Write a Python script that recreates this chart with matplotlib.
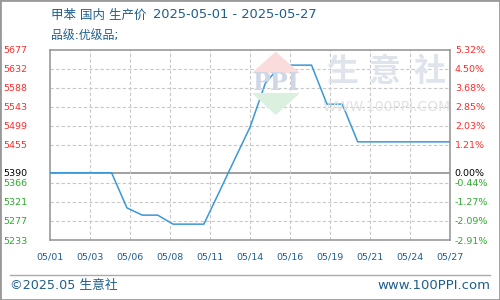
import numpy as np
import matplotlib
matplotlib.use("Agg")
import matplotlib.pyplot as plt
from matplotlib.patches import Polygon, Rectangle
from matplotlib.lines import Line2D

plt.rcParams['font.family'] = ['DejaVu Sans', 'Noto Sans CJK SC']

# data: day of May 2025 and price (yuan/ton)
days = list(range(1, 28))
prices = [5390, 5390, 5390, 5390, 5390, 5308, 5291, 5291, 5270, 5270,
          5270, 5345, 5421, 5496, 5599, 5641, 5641, 5641, 5550, 5550,
          5462, 5462, 5462, 5462, 5462, 5462, 5462]

base_price = 5390
y_ticks = [5233, 5277.4, 5321.8, 5366.2, 5390, 5455, 5499.4, 5543.8, 5588.2, 5632.6, 5677]
x_labels = ["05/01", "05/03", "05/06", "05/08", "05/11", "05/14",
            "05/16", "05/19", "05/21", "05/24", "05/27"]

title_name = "甲苯 国内 生产价"
title_dates = "2025-05-01 - 2025-05-27"
subtitle = "品级:优级品;"

blue_text = "#1f5e8c"
red = "#ff2b2b"
green = "#2fa82f"
frame = "#999999"
grid_c = "#c8c8c8"

fig = plt.figure(figsize=(5, 3), dpi=100)
W, H = 500, 300


def fx(px):
    return px / W


def fy(py):
    return 1 - py / H


ax = fig.add_axes([fx(50), fy(240), fx(450) - fx(50), fy(49.7) - fy(240)])
ax.set_xlim(days[0], days[-1])
ax.set_ylim(y_ticks[0], y_ticks[-1])

x_ticks = np.linspace(days[0], days[-1], len(x_labels))

# watermark
wm = fig.transFigure
fig.patches.append(Polygon([(fx(251.7), fy(73)), (fx(275.7), fy(51.7)), (fx(300), fy(73))],
                           closed=True, transform=wm, facecolor="#fadcdc", edgecolor="none", zorder=0.5))
fig.patches.append(Polygon([(fx(251.7), fy(93)), (fx(275.7), fy(115)), (fx(300), fy(93))],
                           closed=True, transform=wm, facecolor="#dcf0e0", edgecolor="none", zorder=0.5))
fig.text(fx(276), fy(83), "PPI", transform=wm, ha="center", va="center", fontsize=17,
         fontweight="bold", family="DejaVu Serif", color="#cfd6e6", zorder=0.6)
for ch, cx in zip("生意社", [341.7, 385, 430]):
    fig.text(fx(cx), fy(71.7), ch, ha="center", va="center", fontsize=23,
             fontweight="bold", family="Noto Sans CJK SC", color="#dfe3ec", zorder=0.6)
fig.text(fx(387), fy(106.7), "WWW.100PPI.COM", ha="center", va="center", fontsize=10,
         family="DejaVu Sans", color="#e2e2e2", zorder=0.6)
ax.patch.set_alpha(0)

# grid
for v in y_ticks:
    if v == base_price:
        ax.axhline(v, color=frame, lw=1.3, zorder=1)
    elif v not in (y_ticks[0], y_ticks[-1]):
        ax.axhline(v, color=grid_c, lw=0.8, ls=(0, (3, 2)), zorder=1)
for v in x_ticks[1:-1]:
    ax.axvline(v, color=grid_c, lw=0.8, ls=(0, (3, 2)), zorder=1)

ax.plot(days, prices, color="#3a98d8", lw=1.1, zorder=3)

for s in ax.spines.values():
    s.set_color(frame)
    s.set_linewidth(1.2)

ax.set_xticks(x_ticks)
ax.set_xticklabels(x_labels, fontsize=6.8, color=blue_text)
ax.tick_params(axis="x", length=0, pad=9)

ax.set_yticks(y_ticks)
ax.set_yticklabels([str(int(v)) for v in y_ticks], fontsize=6.8)
ax.tick_params(axis="y", length=0, pad=16)

ax2 = ax.twinx()
ax2.set_ylim(ax.get_ylim())
ax2.set_yticks(y_ticks)
ax2.set_yticklabels([f"{(v / base_price - 1) * 100:.2f}%" for v in y_ticks], fontsize=6.8)
ax2.tick_params(axis="y", length=0, pad=3.5)
for s in ax2.spines.values():
    s.set_visible(False)

for a in (ax, ax2):
    for lab, v in zip(a.get_yticklabels(), y_ticks):
        lab.set_color(red if v > base_price else (green if v < base_price else "black"))

# titles
fig.text(fx(51), fy(15), title_name, ha="left", va="center", fontsize=9, color=blue_text)
fig.text(fx(153), fy(15), title_dates, ha="left", va="center", fontsize=9.4, color=blue_text)
fig.text(fx(51), fy(36), subtitle, ha="left", va="center", fontsize=8.6, color=blue_text)

# footer
fig.lines.append(Line2D([fx(10), fx(490)], [fy(275), fy(275)], transform=fig.transFigure,
                        color="#aaaaaa", lw=1))
fig.text(fx(10), fy(285.5), "©2025.05 生意社", ha="left", va="center", fontsize=9.2, color=blue_text)
fig.text(fx(490), fy(285.5), "www.100PPI.com", ha="right", va="center", fontsize=9.5,
         color=blue_text)

fig.patches.append(Rectangle((0, 0), 1, 1, transform=fig.transFigure, fill=False,
                             edgecolor=frame, lw=2))

fig.savefig("out.png", dpi=100)
